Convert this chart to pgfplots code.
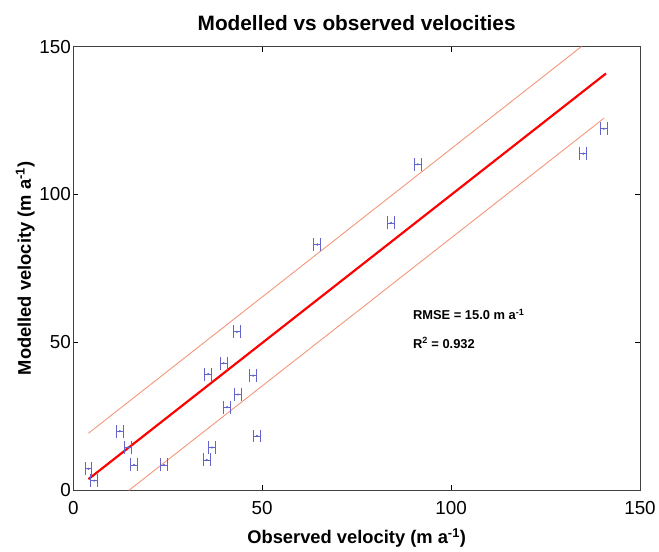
\documentclass[border=0pt]{standalone}
\usepackage{pgfplots}
\pgfplotsset{compat=1.18}
\usepackage{fontspec}
\setmainfont{Liberation Sans}
\definecolor{ptblue}{RGB}{100,100,205}
\definecolor{bandc}{RGB}{245,150,120}
\begin{document}
\begin{tikzpicture}
\begin{axis}[
  scale only axis, width=572pt, height=448pt,
  xmin=0, xmax=150, ymin=0, ymax=150,
  xtick={0,50,100,150}, ytick={0,50,100,150},
  tick align=inside, tick style={black, major tick length=5pt},
  axis line style={black!75, line width=0.9pt},
  /pgf/number format/assume math mode=true,
  ticklabel style={font=\fontsize{19}{21}\selectfont},
  xticklabel style={yshift=-8pt},
  yticklabel style={xshift=1pt},
  title={\bfseries Modelled vs observed velocities},
  title style={font=\fontsize{21}{24}\selectfont, yshift=6pt},
  xlabel={\bfseries Observed velocity (m a\textsuperscript{-1})},
  ylabel={\bfseries Modelled velocity (m a\textsuperscript{-1})},
  label style={font=\fontsize{18.5}{20}\selectfont},
  xlabel style={yshift=-7pt},
  ylabel style={yshift=-2pt},
  clip=false,
]
\path (rel axis cs:-0.1294,-0.1205) rectangle (rel axis cs:1.0227,1.1049);
\addplot[bandc, line width=0.9pt] coordinates {(4,19.3) (134.5,150)};
\addplot[bandc, line width=0.9pt] coordinates {(14.7,0) (140.5,125.8)};
\addplot[red, line width=2.2pt] coordinates {(4,3.8) (141,140.9)};
\addplot[ptblue, only marks, mark=*, mark size=0.9pt,
  error bars/.cd, x dir=both, x explicit,
  error bar style={line width=0.8pt, ptblue},
  error mark options={rotate=90, mark size=6.5pt, line width=1pt, ptblue}]
  coordinates {
  (4.0,7.3) +- (0.9,0)
  (5.5,3.3) +- (0.9,0)
  (12.3,20.0) +- (0.9,0)
  (14.5,14.5) +- (0.9,0)
  (16.1,8.6) +- (0.9,0)
  (24.0,8.6) +- (0.9,0)
  (35.3,10.3) +- (0.9,0)
  (36.7,14.5) +- (0.9,0)
  (35.7,39.3) +- (0.9,0)
  (39.8,43.0) +- (0.9,0)
  (40.7,28.1) +- (0.9,0)
  (43.3,53.6) +- (0.9,0)
  (43.6,32.4) +- (0.9,0)
  (47.6,38.8) +- (0.9,0)
  (48.6,18.4) +- (0.9,0)
  (64.6,83.1) +- (0.9,0)
  (84.1,90.4) +- (0.9,0)
  (91.2,110.2) +- (0.9,0)
  (135.0,113.8) +- (0.9,0)
  (140.4,122.2) +- (0.9,0)
  };
\node[anchor=west, font=\bfseries\fontsize{13}{15}\selectfont] at (axis cs:89,59.5) {RMSE = 15.0 m a\textsuperscript{-1}};
\node[anchor=west, font=\bfseries\fontsize{13}{15}\selectfont] at (axis cs:89,49.8) {R\textsuperscript{2} = 0.932};
\end{axis}
\end{tikzpicture}
\end{document}
